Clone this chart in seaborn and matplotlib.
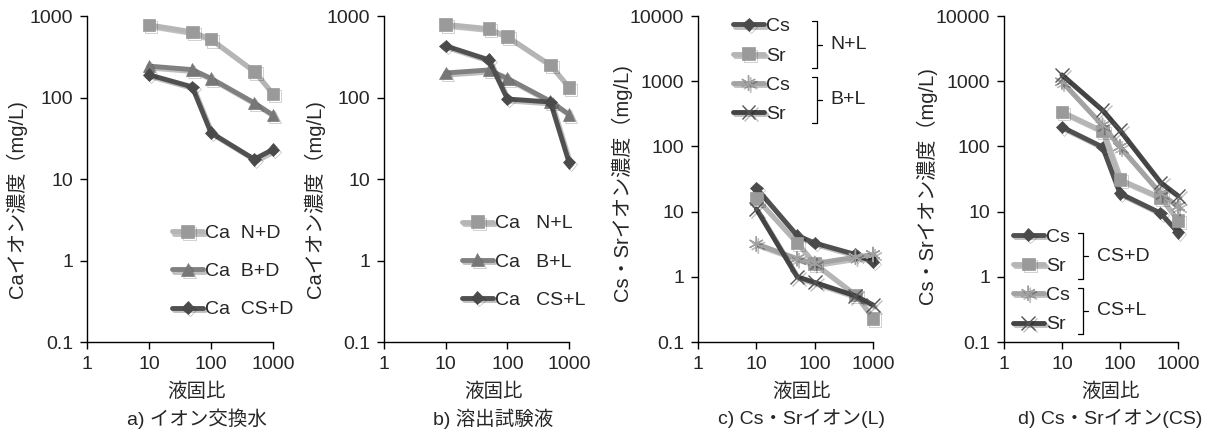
import numpy as np
import pandas as pd
import seaborn as sns
import matplotlib.pyplot as plt
import matplotlib.patheffects as pe

# liquid/solid ratio
ratio = [10, 50, 100, 500, 1000]

# a) ion-exchanged water, Ca
ca_nd = [780, 640, 520, 210, 110]
ca_bd = [243, 220, 172, 86, 61]
ca_csd = [190, 135, 37, 17.5, 23]

# b) leaching solution, Ca
ca_nl = [790, 700, 560, 250, 132]
ca_bl = [200, 218, 172, 90, 62]
ca_csl = [430, 290, 96, 88, 16]

# c) Cs / Sr (L)
cs_nl = [23, 4.3, 3.3, 2.2, 1.7]
sr_nl = [16, 3.3, 1.6, 0.53, 0.23]
cs_bl = [3.2, 1.9, 1.6, 2.0, 2.2]
sr_bl = [11, 1.0, 0.82, 0.51, 0.37]

# d) Cs / Sr (CS)
cs_csd = [198, 98, 19, 9.5, 4.8]
sr_csd = [340, 172, 31, 16.5, 7.3]
cs_csl = [980, 210, 98, 19, 12]
sr_csl = [1250, 360, 176, 28, 17.5]

xticks = [1, 10, 100, 1000]
xtick_labels = ['1', '10', '100', '1000']
yticks_ca = [0.1, 1, 10, 100, 1000]
ytick_labels_ca = ['0.1', '1', '10', '100', '1000']
yticks_cs = [0.1, 1, 10, 100, 1000, 10000]
ytick_labels_cs = ['0.1', '1', '10', '100', '1000', '10000']

sns.set_style('ticks')
plt.rcParams['font.family'] = ['Liberation Sans', 'Noto Sans CJK JP']
plt.rcParams['font.size'] = 14
plt.rcParams['axes.unicode_minus'] = False

FS = 14
LIGHT = '#b5b5b5'
MID = '#808080'
DARK = '#505050'
STAR = '#a3a3a3'
XDARK = '#444444'
star = (6, 2, 0)

fig = plt.figure(figsize=(12.13, 4.32), dpi=100)
bot, h = 0.2083, 0.7546
axes = [fig.add_axes([0.0717, bot, 0.1533, h]),
        fig.add_axes([0.3166, bot, 0.1525, h]),
        fig.add_axes([0.5754, bot, 0.1443, h]),
        fig.add_axes([0.8277, bot, 0.1434, h])]

shadow = [pe.SimpleLineShadow(offset=(1.5, -1.5), alpha=0.25, shadow_color='k'), pe.Normal()]


def series(ax, y, color, marker, ms, mfc=None, mew=0.5):
    sns.lineplot(x=ratio, y=y, ax=ax, color=color, linewidth=3.5, marker=marker,
                 markersize=ms, markerfacecolor=mfc or color,
                 markeredgecolor=mfc or color, markeredgewidth=mew)
    line = ax.get_lines()[-1]
    line.set_path_effects(shadow)
    line.set_clip_on(False)
    return line


def style(ax, yticks, ylabels, ylabel, ylab_x, ylab_y, caption, xl_x):
    ax.set_xscale('log')
    ax.set_yscale('log')
    ax.set_xlim(1, 1000)
    ax.set_ylim(yticks[0], yticks[-1])
    ax.set_xticks(xticks)
    ax.set_xticklabels(xtick_labels)
    ax.set_yticks(yticks)
    ax.set_yticklabels(ylabels)
    ax.minorticks_off()
    ax.tick_params(length=5, width=1, color='black', labelsize=FS, pad=5)
    for s in ['left', 'bottom']:
        ax.spines[s].set_color('black')
        ax.spines[s].set_linewidth(1)
    sns.despine(ax=ax)
    ax.set_ylabel(ylabel, fontsize=FS + 0.5)
    ax.yaxis.set_label_coords(ylab_x, ylab_y)
    ax.set_xlabel('液固比', fontsize=FS)
    ax.xaxis.set_label_coords(xl_x, -0.125)
    ax.text(xl_x, -0.235, caption, transform=ax.transAxes, ha='center', va='center', fontsize=FS)


def bracket(ax, x, x_hook, top, bottom, label, label_x):
    kw = dict(color='black', lw=0.9, transform=ax.transAxes, clip_on=False)
    mid = (top + bottom) / 2
    ax.plot([x_hook, x, x, x_hook], [top, top, bottom, bottom], **kw)
    ax.plot([x, x + 0.03], [mid, mid], **kw)
    ax.text(label_x, mid, label, transform=ax.transAxes, ha='left', va='center', fontsize=FS)


leg_kw = dict(frameon=False, handlelength=1.6, handletextpad=0.1, borderpad=0,
              borderaxespad=0, fontsize=FS, loc='upper left')

# a)
ax = axes[0]
h1 = series(ax, ca_nd, LIGHT, 's', 9, mfc='#9a9a9a')
h2 = series(ax, ca_bd, MID, '^', 9, mfc='#777777')
h3 = series(ax, ca_csd, DARK, 'D', 6.5, mfc='#4a4a4a')
style(ax, yticks_ca, ytick_labels_ca, 'Caイオン濃度（mg/L)', -0.32, 0.44, 'a) イオン交換水', 0.59)
ax.legend([h1, h2, h3], ['Ca  N+D', 'Ca  B+D', 'Ca  CS+D'], bbox_to_anchor=(0.457, 0.36),
          labelspacing=1.05, **leg_kw)

# b)
ax = axes[1]
h1 = series(ax, ca_nl, LIGHT, 's', 9, mfc='#9a9a9a')
h2 = series(ax, ca_bl, MID, '^', 9, mfc='#777777')
h3 = series(ax, ca_csl, DARK, 'D', 6.5, mfc='#4a4a4a')
style(ax, yticks_ca, ytick_labels_ca, 'Caイオン濃度（mg/L)', -0.32, 0.44, 'b) 溶出試験液', 0.59)
ax.legend([h1, h2, h3], ['Ca   N+L', 'Ca   B+L', 'Ca   CS+L'], bbox_to_anchor=(0.42, 0.39),
          labelspacing=1.05, **leg_kw)

# c)
ax = axes[2]
h1 = series(ax, cs_nl, DARK, 'D', 6.5, mfc='#4a4a4a')
h2 = series(ax, sr_nl, LIGHT, 's', 9, mfc='#9a9a9a')
h3 = series(ax, cs_bl, STAR, star, 11, mfc='#a0a0a0', mew=1)
h4 = series(ax, sr_bl, XDARK, 'x', 10, mfc='#555555', mew=1)
style(ax, yticks_cs, ytick_labels_cs, 'Cs・Srイオン濃度（mg/L)', -0.377, 0.49, 'c) Cs・Srイオン(L)', 0.59)
ax.legend([h1, h2, h3, h4], ['Cs', 'Sr', 'Cs', 'Sr'], bbox_to_anchor=(0.2, 0.995),
          labelspacing=0.6, **leg_kw)
bracket(ax, 0.68, 0.651, 0.985, 0.84, 'N+L', 0.754)
bracket(ax, 0.68, 0.651, 0.813, 0.672, 'B+L', 0.754)

# d)
ax = axes[3]
h1 = series(ax, cs_csd, DARK, 'D', 6.5, mfc='#4a4a4a')
h2 = series(ax, sr_csd, LIGHT, 's', 9, mfc='#9a9a9a')
h3 = series(ax, cs_csl, STAR, star, 11, mfc='#a0a0a0', mew=1)
h4 = series(ax, sr_csl, XDARK, 'x', 10, mfc='#555555', mew=1)
style(ax, yticks_cs, ytick_labels_cs, 'Cs・Srイオン濃度（mg/L)', -0.385, 0.48, 'd) Cs・Srイオン(CS)', 0.61)
ax.legend([h1, h2, h3, h4], ['Cs', 'Sr', 'Cs', 'Sr'], bbox_to_anchor=(0.05, 0.35),
          labelspacing=0.6, **leg_kw)
bracket(ax, 0.454, 0.425, 0.334, 0.193, 'CS+D', 0.534)
bracket(ax, 0.454, 0.425, 0.166, 0.025, 'CS+L', 0.534)

fig.savefig('out.png', dpi=100)
